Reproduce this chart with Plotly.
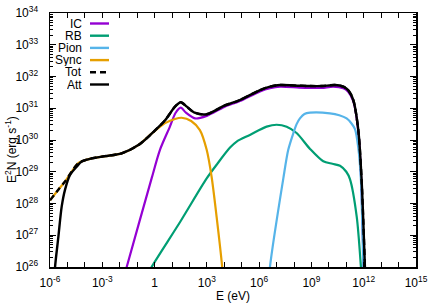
import numpy as np
import plotly.graph_objects as go

# ---- data (log10 E [eV], log10 E^2N [erg s^-1]) ----
ic_logE = [-1.75, -1.6, -0.17, 0.31, 0.88, 1.2, 1.5, 1.8, 2.32, 2.99, 4.0, 4.9, 6.05, 6.62, 7.2, 8.3, 8.92, 9.6, 10.25, 10.83, 11.11, 11.4, 11.69, 11.86, 12.0, 12.03]
ic_logY = [25.7, 26.0, 28.79, 29.69, 30.42, 30.85, 31.02, 30.86, 30.68, 30.76, 31.04, 31.23, 31.53, 31.63, 31.68, 31.65, 31.64, 31.64, 31.68, 31.63, 31.52, 31.22, 30.27, 28.7, 26.0, 25.5]

rb_logE = [-0.3, -0.17, 1.5, 2.99, 3.6, 4.33, 4.71, 5.47, 6.43, 7.0, 7.58, 8.15, 8.92, 9.68, 10.2, 10.64, 11.0, 11.21, 11.6, 11.84, 11.9]
rb_logY = [25.85, 26.0, 27.45, 28.79, 29.25, 29.76, 29.95, 30.16, 30.42, 30.48, 30.42, 30.22, 29.72, 29.33, 29.25, 29.19, 29.0, 28.77, 27.58, 26.0, 25.5]

pion_logE = [6.55, 6.62, 7.39, 7.67, 7.96, 8.15, 8.34, 8.6, 8.92, 10.06, 10.6, 11.02, 11.3, 11.5, 11.69, 11.84, 11.98, 12.03]
pion_logY = [25.5, 26.0, 28.8, 29.69, 30.21, 30.5, 30.68, 30.82, 30.86, 30.84, 30.78, 30.68, 30.52, 30.34, 29.75, 28.74, 26.0, 25.5]

sync_logE = [-6.0, -5.5, -5.14, -4.76, -4.38, -3.61, -2.84, -1.89, -0.93, -0.17, 0.6, 1.17, 1.55, 2.1, 2.6, 2.99, 3.27, 3.56, 3.88, 3.95]
sync_logY = [28.1, 28.45, 28.69, 29.0, 29.27, 29.42, 29.49, 29.58, 29.84, 30.2, 30.53, 30.66, 30.7, 30.6, 30.31, 29.69, 28.85, 27.58, 26.0, 25.5]

tot_logE = [-6.0, -5.5, -5.14, -4.76, -4.38, -3.61, -2.84, -1.89, -0.93, -0.17, 0.6, 1.17, 1.5, 1.85, 2.3, 2.99, 4.0, 4.9, 6.05, 6.62, 7.2, 8.3, 8.92, 9.6, 10.35, 10.83, 11.11, 11.4, 11.69, 11.88, 12.07, 12.1]
tot_logY = [28.1, 28.45, 28.69, 29.0, 29.27, 29.42, 29.49, 29.58, 29.84, 30.2, 30.62, 31.05, 31.19, 31.05, 30.86, 30.81, 31.08, 31.26, 31.57, 31.68, 31.73, 31.71, 31.7, 31.7, 31.73, 31.68, 31.57, 31.26, 30.31, 28.74, 26.0, 25.5]

att_logE = [-5.75, -5.71, -5.52, -5.33, -5.14, -4.85, -4.47, -4.18, -3.61, -2.84, -1.89, -0.93, -0.17, 0.6, 1.17, 1.5, 1.85, 2.3, 2.99, 4.0, 4.9, 6.05, 6.62, 7.2, 8.3, 8.92, 9.6, 10.35, 10.83, 11.11, 11.4, 11.69, 11.88, 12.07, 12.1]
att_logY = [25.5, 26.0, 26.95, 27.9, 28.43, 28.9, 29.16, 29.32, 29.42, 29.49, 29.58, 29.84, 30.2, 30.62, 31.05, 31.19, 31.05, 30.86, 30.81, 31.08, 31.26, 31.57, 31.68, 31.73, 31.71, 31.7, 31.7, 31.73, 31.68, 31.57, 31.26, 30.31, 28.74, 26.0, 25.5]

series_names = ["IC", "RB", "Pion", "Sync", "Tot", "Att"]
series_colors = ["#9400D3", "#009E73", "#56B4E9", "#E69F00", "#000000", "#000000"]
series_dash = ["solid", "solid", "solid", "solid", "6px,4px", "solid"]
series_width = [2.2, 2.2, 2.2, 2.2, 2.4, 2.4]

x_tick_exps = list(range(-6, 16))
x_label_exps = [-6, -3, 0, 3, 6, 9, 12, 15]
y_tick_exps = list(range(26, 35))

x_title = "E (eV)"
y_title = "E<sup>2</sup>N (erg s<sup>-1</sup>)"

FONT = "Liberation Sans, Arial, Helvetica, sans-serif"

series = [(ic_logE, ic_logY), (rb_logE, rb_logY), (pion_logE, pion_logY),
          (sync_logE, sync_logY), (tot_logE, tot_logY), (att_logE, att_logY)]

fig = go.Figure()
for (lx, ly), name, col, dash, w in zip(series, series_names, series_colors, series_dash, series_width):
    fig.add_trace(go.Scatter(
        x=np.power(10.0, lx), y=np.power(10.0, ly), mode="lines", name=name,
        line=dict(color=col, width=w, dash=dash, shape="spline", smoothing=0.8),
        showlegend=False, hoverinfo="skip"))

def pow_label(e):
    if e == 0:
        return "1"
    return "10<sup>%d</sup>" % e

x_tickvals = [10.0 ** e for e in x_label_exps]
x_ticktext = [pow_label(e) for e in x_label_exps]
x_minor = [10.0 ** e for e in x_tick_exps if e not in x_label_exps]
y_tickvals = [10.0 ** e for e in y_tick_exps]
y_ticktext = [pow_label(e) for e in y_tick_exps]
y_minor = [m * 10.0 ** e for e in y_tick_exps[:-1] for m in range(2, 10)]

fig.update_xaxes(
    type="log", range=[-6, 15], tickvals=x_tickvals, ticktext=x_ticktext,
    ticks="inside", ticklen=5, tickwidth=1, tickcolor="black",
    minor=dict(tickvals=x_minor, ticks="inside", ticklen=5, tickwidth=1, tickcolor="black"),
    showline=True, linecolor="black", linewidth=1.5, mirror="ticks",
    showgrid=False, zeroline=False, automargin=False, ticklabelstandoff=4,
    tickfont=dict(family=FONT, size=12, color="black"),
)
fig.update_yaxes(
    type="log", range=[26, 34], tickvals=y_tickvals, ticktext=y_ticktext,
    ticks="inside", ticklen=6, tickwidth=1, tickcolor="black",
    minor=dict(tickvals=y_minor, ticks="inside", ticklen=3, tickwidth=1, tickcolor="black"),
    showline=True, linecolor="black", linewidth=1.5, mirror="ticks",
    showgrid=False, zeroline=False, automargin=False, ticklabelstandoff=8,
    tickfont=dict(family=FONT, size=12, color="black"),
)

# plot-area pixel geometry
PL, PW, PT, PH = 50, 366, 13, 254
def px_x(px):
    return (px - PL) / PW
def px_y(py):
    return (PT + PH - py) / PH

# axis titles
fig.add_annotation(x=px_x(233), y=px_y(296), xref="paper", yref="paper", text=x_title,
                   showarrow=False, xanchor="center", yanchor="middle",
                   font=dict(family=FONT, size=12, color="black"))
fig.add_annotation(x=px_x(11), y=px_y(150), xref="paper", yref="paper", text=y_title,
                   showarrow=False, xanchor="center", yanchor="middle", textangle=-90,
                   font=dict(family=FONT, size=12, color="black"))

# custom legend: label right-aligned, sample line to the right (gnuplot style)
leg_top = 23.5
leg_step = 12.2
for i, (name, col, dash) in enumerate(zip(series_names, series_colors, series_dash)):
    yy = px_y(leg_top + i * leg_step)
    fig.add_annotation(x=px_x(84), y=yy, xref="paper", yref="paper", text=name,
                       showarrow=False, xanchor="right", yanchor="middle", height=12,
                       font=dict(family=FONT, size=12, color="black"))
    fig.add_shape(type="line", xref="paper", yref="paper",
                  x0=px_x(90), x1=px_x(109), y0=yy, y1=yy,
                  line=dict(color=col, width=2.4, dash=dash))

fig.update_layout(
    width=436, height=305,
    margin=dict(l=50, r=20, t=13, b=38, autoexpand=False),
    paper_bgcolor="white", plot_bgcolor="white",
    font=dict(family=FONT, size=12, color="black"),
    showlegend=False, hovermode=False,
)

fig.write_html("out.html", config={"displayModeBar": False, "staticPlot": True},
               post_script="document.body.style.margin='0';document.body.style.padding='0';document.body.style.overflow='hidden';")
